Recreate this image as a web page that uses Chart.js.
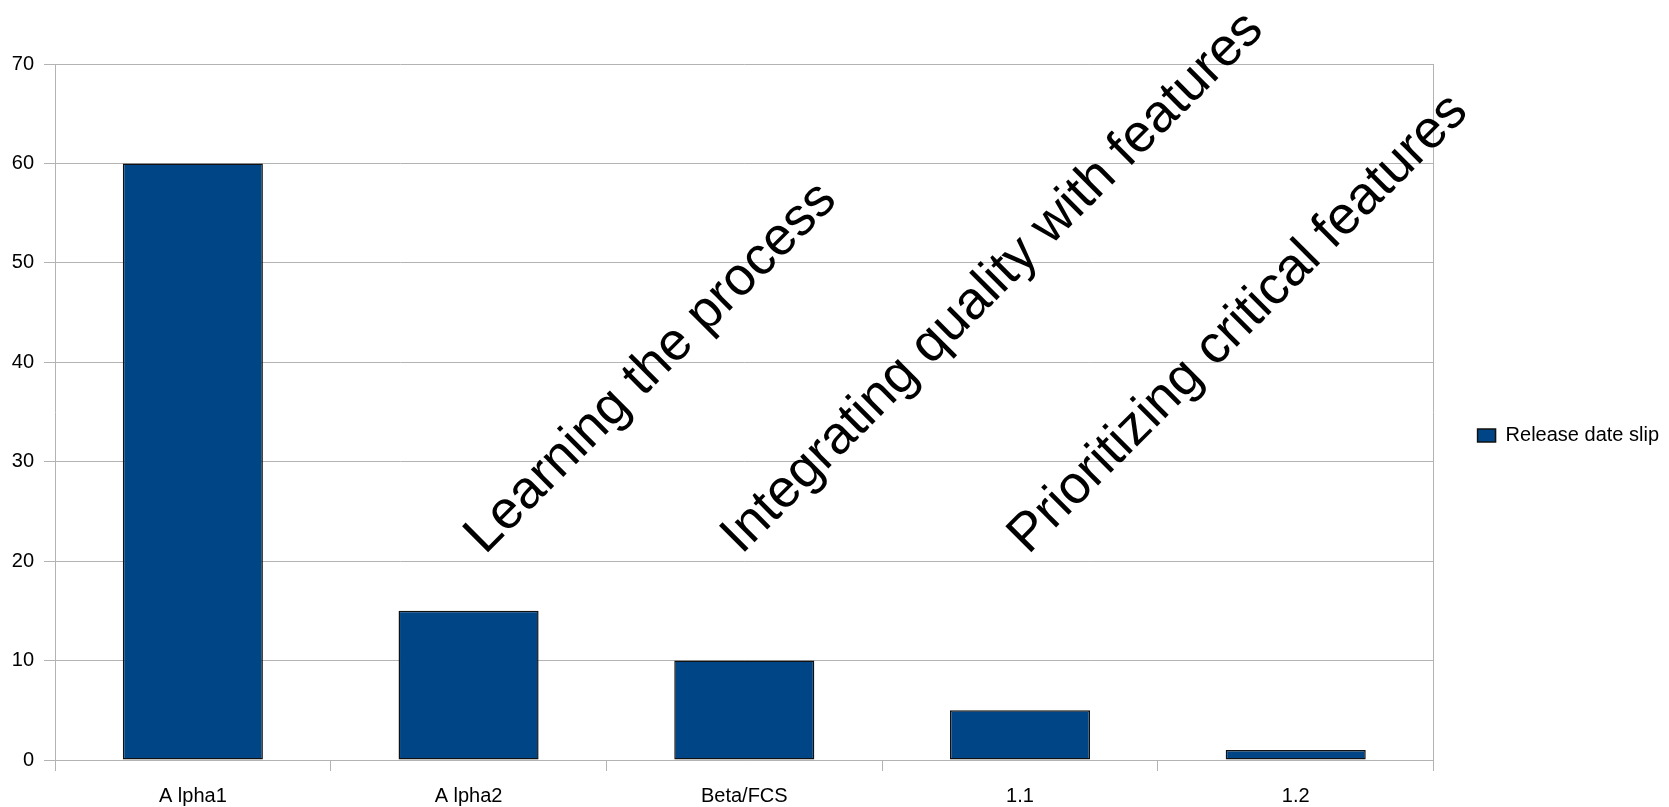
<!DOCTYPE html>
<html>
<head>
<meta charset="utf-8">
<script src="https://cdn.jsdelivr.net/npm/chart.js@4/dist/chart.umd.min.js"></script>
<style>
  html, body { margin: 0; padding: 0; background: #ffffff; }
  #wrap { width: 1669px; height: 807px; }
</style>
</head>
<body>
<div id="wrap"><canvas id="chart" width="1669" height="807"></canvas></div>
<script>
// Release milestones and how far each one slipped
const categories = ['A lpha1', 'A lpha2', 'Beta/FCS', '1.1', '1.2'];
const slipValues = [60, 15, 10, 5, 1];
const seriesName = 'Release date slip';
const yTicks = [0, 10, 20, 30, 40, 50, 60, 70];

// Diagonal notes: text, category position and value where each baseline starts
const noteTexts = ['Learning the process', 'Integrating quality with features', 'Prioritizing critical features'];
const noteCategory = [1.06, 1.99, 3.03];
const noteValue = [20.6, 20.6, 20.6];

const FONT = '"Liberation Sans", Arial, Helvetica, sans-serif';
const GRID = '#b3b3b3';
const BAR = '#004586';

// Draws the slanted phase notes using the chart's own scales
const phaseNotes = {
  id: 'phaseNotes',
  afterDatasetsDraw(chart) {
    const { ctx, scales } = chart;
    ctx.save();
    ctx.fillStyle = '#000000';
    ctx.font = '53.5px ' + FONT;
    ctx.textAlign = 'left';
    ctx.textBaseline = 'alphabetic';
    noteTexts.forEach((t, i) => {
      const px = scales.x.getPixelForValue(noteCategory[i]);
      const py = scales.y.getPixelForValue(noteValue[i]);
      ctx.save();
      ctx.translate(px, py);
      ctx.rotate(-Math.PI / 4);
      ctx.fillText(t, 0, 0);
      ctx.restore();
    });
    ctx.restore();
  }
};

new Chart(document.getElementById('chart'), {
  type: 'bar',
  data: {
    labels: categories,
    datasets: [{
      label: seriesName,
      data: slipValues,
      backgroundColor: BAR,
      borderColor: '#111111',
      borderWidth: 1.5,
      borderSkipped: false,
      barPercentage: 0.508,
      categoryPercentage: 1.0
    }]
  },
  options: {
    responsive: false,
    animation: false,
    layout: { padding: { left: 0, top: 64, right: 0, bottom: 0 } },
    plugins: {
      tooltip: { enabled: false },
      legend: {
        position: 'right',
        align: 'center',
        labels: {
          color: '#000000',
          font: { family: FONT, size: 20, lineHeight: 1.7 },
          boxWidth: 18,
          boxHeight: 13,
          padding: 44
        }
      }
    },
    scales: {
      x: {
        type: 'category',
        offset: true,
        grid: {
          offset: true,
          display: true,
          drawOnChartArea: false,
          color: GRID,
          tickColor: GRID,
          tickLength: 11,
          lineWidth: 1
        },
        border: { display: true, color: GRID, width: 1 },
        ticks: {
          color: '#000000',
          font: { family: FONT, size: 20 },
          padding: 13,
          maxRotation: 0,
          autoSkip: false
        },
        afterFit(scale) { scale.height = 47; }
      },
      y: {
        type: 'linear',
        position: 'left',
        min: 0,
        max: 70,
        afterBuildTicks(scale) { scale.ticks = yTicks.map(v => ({ value: v })); },
        grid: {
          color: GRID,
          tickColor: GRID,
          tickLength: 11,
          lineWidth: 1
        },
        border: { display: true, color: GRID, width: 1 },
        ticks: {
          color: '#000000',
          font: { family: FONT, size: 20 },
          padding: 10
        },
        afterFit(scale) { scale.width = 55; }
      },
      frame: {
        type: 'linear',
        position: 'right',
        grid: { drawOnChartArea: false, drawTicks: false },
        border: { display: true, color: GRID, width: 1 },
        ticks: { display: false },
        afterFit(scale) { scale.width = 0; }
      }
    }
  },
  plugins: [phaseNotes]
});
</script>
</body>
</html>
